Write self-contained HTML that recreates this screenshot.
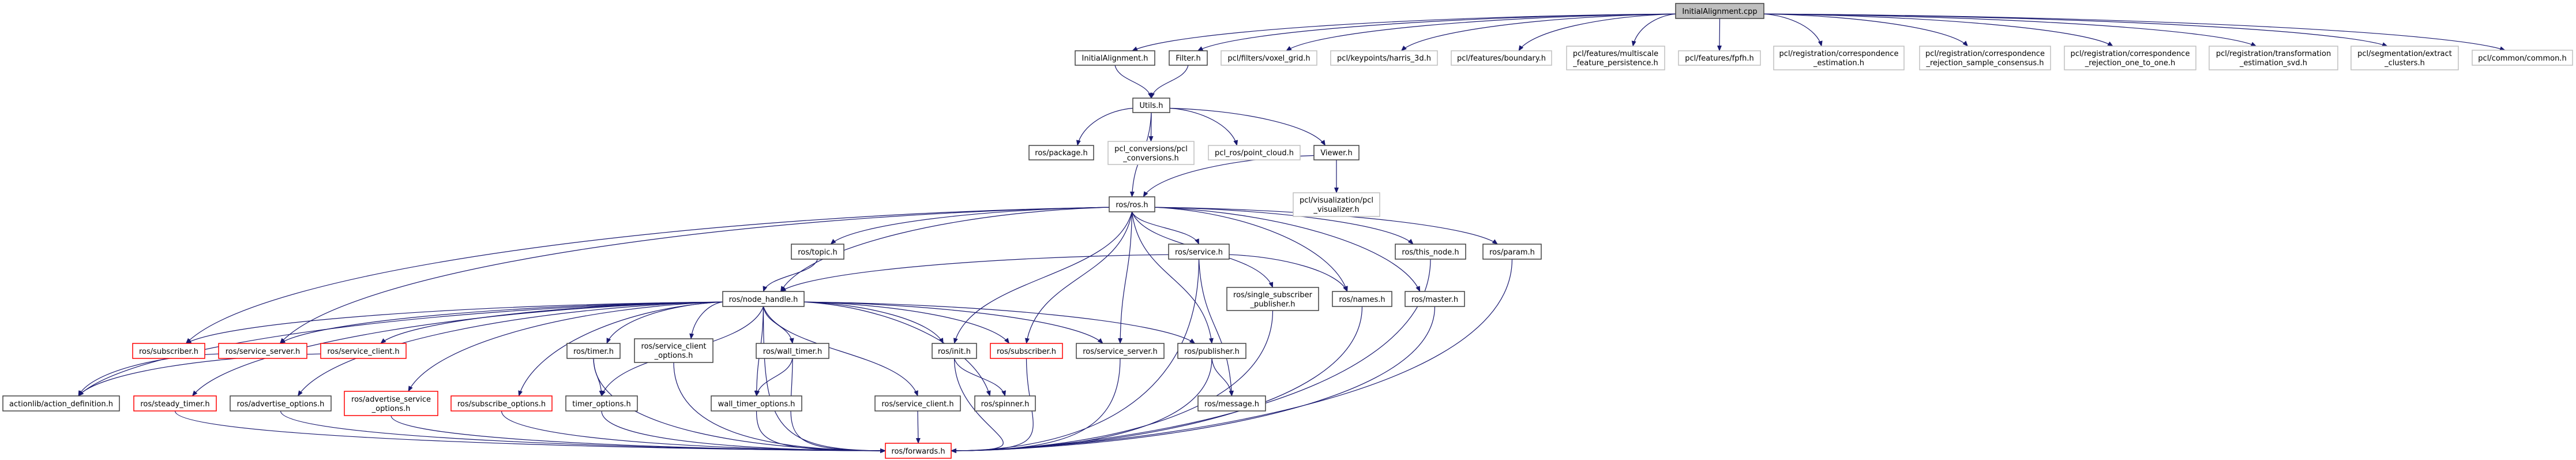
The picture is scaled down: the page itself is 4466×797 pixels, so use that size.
<!DOCTYPE html>
<html><head><meta charset="utf-8"><style>
html,body{margin:0;padding:0;background:#fff;}
svg{display:block;}
text{font-family:"DejaVu Sans","Liberation Sans",sans-serif;font-size:13px;fill:#000;}
</style></head><body>
<svg id="g" width="4466" height="797" viewBox="0 0 4466 797" xmlns="http://www.w3.org/2000/svg">
<defs><marker id="a" markerWidth="10" markerHeight="8" refX="9" refY="4" orient="auto" markerUnits="userSpaceOnUse"><path d="M0,0 L10,4 L0,8 z" fill="#191970"/></marker></defs>
<g id="edges" fill="none" stroke="#191970" stroke-width="1.2"></g>
<g id="nodes">
<rect x="2905" y="6" width="153" height="26" fill="#bfbfbf" stroke="#404040" stroke-width="1.5"/><text x="2981.5" y="24" text-anchor="middle">InitialAlignment.cpp</text>
<rect x="1864" y="88" width="138" height="25" fill="#fff" stroke="#404040" stroke-width="1.5"/><text x="1933" y="105" text-anchor="middle">InitialAlignment.h</text>
<rect x="2027" y="88" width="66" height="25" fill="#fff" stroke="#404040" stroke-width="1.5"/><text x="2060" y="105" text-anchor="middle">Filter.h</text>
<rect x="2117" y="88" width="166" height="25" fill="#fff" stroke="#bfbfbf" stroke-width="1.5"/><text x="2200" y="105" text-anchor="middle">pcl/filters/voxel_grid.h</text>
<rect x="2307" y="88" width="185" height="25" fill="#fff" stroke="#bfbfbf" stroke-width="1.5"/><text x="2399.5" y="105" text-anchor="middle">pcl/keypoints/harris_3d.h</text>
<rect x="2516" y="88" width="174" height="25" fill="#fff" stroke="#bfbfbf" stroke-width="1.5"/><text x="2603" y="105" text-anchor="middle">pcl/features/boundary.h</text>
<rect x="2716" y="80" width="170" height="41" fill="#fff" stroke="#bfbfbf" stroke-width="1.5"/><text x="2801" y="97" text-anchor="middle">pcl/features/multiscale</text><text x="2801" y="113" text-anchor="middle">_feature_persistence.h</text>
<rect x="2910" y="88" width="142" height="25" fill="#fff" stroke="#bfbfbf" stroke-width="1.5"/><text x="2981" y="105" text-anchor="middle">pcl/features/fpfh.h</text>
<rect x="3075" y="80" width="226" height="41" fill="#fff" stroke="#bfbfbf" stroke-width="1.5"/><text x="3188" y="97" text-anchor="middle">pcl/registration/correspondence</text><text x="3188" y="113" text-anchor="middle">_estimation.h</text>
<rect x="3328" y="80" width="227" height="41" fill="#fff" stroke="#bfbfbf" stroke-width="1.5"/><text x="3441.5" y="97" text-anchor="middle">pcl/registration/correspondence</text><text x="3441.5" y="113" text-anchor="middle">_rejection_sample_consensus.h</text>
<rect x="3579" y="80" width="228" height="41" fill="#fff" stroke="#bfbfbf" stroke-width="1.5"/><text x="3693" y="97" text-anchor="middle">pcl/registration/correspondence</text><text x="3693" y="113" text-anchor="middle">_rejection_one_to_one.h</text>
<rect x="3830" y="80" width="223" height="41" fill="#fff" stroke="#bfbfbf" stroke-width="1.5"/><text x="3941.5" y="97" text-anchor="middle">pcl/registration/transformation</text><text x="3941.5" y="113" text-anchor="middle">_estimation_svd.h</text>
<rect x="4076" y="80" width="186" height="41" fill="#fff" stroke="#bfbfbf" stroke-width="1.5"/><text x="4169" y="97" text-anchor="middle">pcl/segmentation/extract</text><text x="4169" y="113" text-anchor="middle">_clusters.h</text>
<rect x="4286" y="87" width="174" height="26" fill="#fff" stroke="#bfbfbf" stroke-width="1.5"/><text x="4373" y="105" text-anchor="middle">pcl/common/common.h</text>
<rect x="1964" y="170" width="64" height="25" fill="#fff" stroke="#404040" stroke-width="1.5"/><text x="1996" y="187" text-anchor="middle">Utils.h</text>
<rect x="1784" y="252" width="112" height="25" fill="#fff" stroke="#404040" stroke-width="1.5"/><text x="1840" y="269" text-anchor="middle">ros/package.h</text>
<rect x="1921" y="245" width="149" height="40" fill="#fff" stroke="#bfbfbf" stroke-width="1.5"/><text x="1995.5" y="262" text-anchor="middle">pcl_conversions/pcl</text><text x="1995.5" y="278" text-anchor="middle">_conversions.h</text>
<rect x="2095" y="252" width="159" height="25" fill="#fff" stroke="#bfbfbf" stroke-width="1.5"/><text x="2174.5" y="269" text-anchor="middle">pcl_ros/point_cloud.h</text>
<rect x="2278" y="252" width="78" height="25" fill="#fff" stroke="#404040" stroke-width="1.5"/><text x="2317" y="269" text-anchor="middle">Viewer.h</text>
<rect x="2242" y="334" width="150" height="41" fill="#fff" stroke="#bfbfbf" stroke-width="1.5"/><text x="2317" y="351" text-anchor="middle">pcl/visualization/pcl</text><text x="2317" y="367" text-anchor="middle">_visualizer.h</text>
<rect x="1923" y="341" width="79" height="26" fill="#fff" stroke="#404040" stroke-width="1.5"/><text x="1962.5" y="359" text-anchor="middle">ros/ros.h</text>
<rect x="1372" y="423" width="91" height="26" fill="#fff" stroke="#404040" stroke-width="1.5"/><text x="1417.5" y="441" text-anchor="middle">ros/topic.h</text>
<rect x="2026" y="423" width="105" height="26" fill="#fff" stroke="#404040" stroke-width="1.5"/><text x="2078.5" y="441" text-anchor="middle">ros/service.h</text>
<rect x="2419" y="423" width="122" height="26" fill="#fff" stroke="#404040" stroke-width="1.5"/><text x="2480" y="441" text-anchor="middle">ros/this_node.h</text>
<rect x="2571" y="423" width="101" height="26" fill="#fff" stroke="#404040" stroke-width="1.5"/><text x="2621.5" y="441" text-anchor="middle">ros/param.h</text>
<rect x="1253" y="505" width="141" height="26" fill="#fff" stroke="#404040" stroke-width="1.5"/><text x="1323.5" y="523" text-anchor="middle">ros/node_handle.h</text>
<rect x="2127" y="498" width="159" height="40" fill="#fff" stroke="#404040" stroke-width="1.5"/><text x="2206.5" y="515" text-anchor="middle">ros/single_subscriber</text><text x="2206.5" y="531" text-anchor="middle">_publisher.h</text>
<rect x="2310" y="505" width="103" height="26" fill="#fff" stroke="#404040" stroke-width="1.5"/><text x="2361.5" y="523" text-anchor="middle">ros/names.h</text>
<rect x="2436" y="505" width="103" height="26" fill="#fff" stroke="#404040" stroke-width="1.5"/><text x="2487.5" y="523" text-anchor="middle">ros/master.h</text>
<rect x="230" y="595" width="125" height="26" fill="#fff" stroke="#ff0000" stroke-width="1.5"/><text x="292.5" y="613" text-anchor="middle">ros/subscriber.h</text>
<rect x="379" y="595" width="153" height="26" fill="#fff" stroke="#ff0000" stroke-width="1.5"/><text x="455.5" y="613" text-anchor="middle">ros/service_server.h</text>
<rect x="556" y="595" width="148" height="26" fill="#fff" stroke="#ff0000" stroke-width="1.5"/><text x="630" y="613" text-anchor="middle">ros/service_client.h</text>
<rect x="983" y="595" width="92" height="26" fill="#fff" stroke="#404040" stroke-width="1.5"/><text x="1029" y="613" text-anchor="middle">ros/timer.h</text>
<rect x="1100" y="587" width="136" height="41" fill="#fff" stroke="#404040" stroke-width="1.5"/><text x="1168" y="604" text-anchor="middle">ros/service_client</text><text x="1168" y="620" text-anchor="middle">_options.h</text>
<rect x="1311" y="595" width="126" height="26" fill="#fff" stroke="#404040" stroke-width="1.5"/><text x="1374" y="613" text-anchor="middle">ros/wall_timer.h</text>
<rect x="1616" y="595" width="77" height="26" fill="#fff" stroke="#404040" stroke-width="1.5"/><text x="1654.5" y="613" text-anchor="middle">ros/init.h</text>
<rect x="1717" y="595" width="125" height="26" fill="#fff" stroke="#ff0000" stroke-width="1.5"/><text x="1779.5" y="613" text-anchor="middle">ros/subscriber.h</text>
<rect x="1866" y="595" width="152" height="26" fill="#fff" stroke="#404040" stroke-width="1.5"/><text x="1942" y="613" text-anchor="middle">ros/service_server.h</text>
<rect x="2042" y="595" width="118" height="26" fill="#fff" stroke="#404040" stroke-width="1.5"/><text x="2101" y="613" text-anchor="middle">ros/publisher.h</text>
<rect x="5" y="686" width="202" height="26" fill="#fff" stroke="#404040" stroke-width="1.5"/><text x="106" y="704" text-anchor="middle">actionlib/action_definition.h</text>
<rect x="232" y="686" width="143" height="26" fill="#fff" stroke="#ff0000" stroke-width="1.5"/><text x="303.5" y="704" text-anchor="middle">ros/steady_timer.h</text>
<rect x="399" y="686" width="175" height="26" fill="#fff" stroke="#404040" stroke-width="1.5"/><text x="486.5" y="704" text-anchor="middle">ros/advertise_options.h</text>
<rect x="597" y="678" width="162" height="42" fill="#fff" stroke="#ff0000" stroke-width="1.5"/><text x="678" y="696" text-anchor="middle">ros/advertise_service</text><text x="678" y="712" text-anchor="middle">_options.h</text>
<rect x="782" y="686" width="175" height="26" fill="#fff" stroke="#ff0000" stroke-width="1.5"/><text x="869.5" y="704" text-anchor="middle">ros/subscribe_options.h</text>
<rect x="981" y="686" width="124" height="26" fill="#fff" stroke="#404040" stroke-width="1.5"/><text x="1043" y="704" text-anchor="middle">timer_options.h</text>
<rect x="1233" y="686" width="157" height="26" fill="#fff" stroke="#404040" stroke-width="1.5"/><text x="1311.5" y="704" text-anchor="middle">wall_timer_options.h</text>
<rect x="1517" y="686" width="148" height="26" fill="#fff" stroke="#404040" stroke-width="1.5"/><text x="1591" y="704" text-anchor="middle">ros/service_client.h</text>
<rect x="1690" y="686" width="105" height="26" fill="#fff" stroke="#404040" stroke-width="1.5"/><text x="1742.5" y="704" text-anchor="middle">ros/spinner.h</text>
<rect x="2077" y="686" width="117" height="26" fill="#fff" stroke="#404040" stroke-width="1.5"/><text x="2135.5" y="704" text-anchor="middle">ros/message.h</text>
<rect x="1535" y="768" width="114" height="26" fill="#fff" stroke="#ff0000" stroke-width="1.5"/><text x="1592" y="786" text-anchor="middle">ros/forwards.h</text>
</g>
</svg>
<script>
var N={cpp:[2905,6,3058,32],IAh:[1864,88,2002,113],Filter:[2027,88,2093,113],voxel:[2117,88,2283,113],harris:[2307,88,2492,113],boundary:[2516,88,2690,113],multi:[2716,80,2886,121],fpfh:[2910,88,3052,113],corr:[3075,80,3301,121],sac:[3328,80,3555,121],one:[3579,80,3807,121],svd:[3830,80,4053,121],extract:[4076,80,4262,121],common:[4286,87,4460,113],
Utils:[1964,170,2028,195],pkg:[1784,252,1896,277],conv:[1921,245,2070,285],pros:[2095,252,2254,277],Viewer:[2278,252,2356,277],vis:[2242,334,2392,375],ros:[1923,341,2002,367],
topic:[1372,423,1463,449],service:[2026,423,2131,449],thisnode:[2419,423,2541,449],param:[2571,423,2672,449],nh:[1253,505,1394,531],ssp:[2127,498,2286,538],names:[2310,505,2413,531],master:[2436,505,2539,531],
subL:[230,595,355,621],ssL:[379,595,532,621],scL:[556,595,704,621],timer:[983,595,1075,621],sco:[1100,587,1236,628],wt:[1311,595,1437,621],init:[1616,595,1693,621],subM:[1717,595,1842,621],ssM:[1866,595,2018,621],pub:[2042,595,2160,621],
ad:[5,686,207,712],steady:[232,686,375,712],ao:[399,686,574,712],aso:[597,678,759,720],so:[782,686,957,712],to:[981,686,1105,712],wto:[1233,686,1390,712],sc:[1517,686,1665,712],spin:[1690,686,1795,712],msg:[2077,686,2194,712],fw:[1535,768,1649,794]};
var G=document.getElementById('edges'),NS='http://www.w3.org/2000/svg';
function P(d){var p=document.createElementNS(NS,'path');p.setAttribute('d',d);p.setAttribute('marker-end','url(#a)');G.appendChild(p);}
function E(s,t){var a=N[s],b=N[t];var sx=(a[0]+a[2])/2,sy=a[3],tx=(b[0]+b[2])/2,ty=b[1];
 var dx=tx-sx,dy=ty-sy;
 if(Math.abs(dx)>dy*2.2){
   sx=dx<0?a[0]:a[2]; sy=(a[1]+a[3])/2+(a[3]-a[1])*0.2;
   tx=tx+(dx<0?1:-1)*Math.min(30,(b[2]-b[0])*0.25); dy=ty-sy; dx=tx-sx;
   P('M'+sx+','+sy+' C'+(sx+dx*0.45)+','+(sy+dy*0.05)+' '+(tx-dx*0.08)+','+(ty-Math.max(dy*0.55,20))+' '+tx+','+ty);
 } else {
   P('M'+sx+','+sy+' C'+(sx+dx*0.1)+','+(sy+dy*0.5)+' '+(tx-dx*0.1)+','+(ty-dy*0.5)+' '+tx+','+ty);
 }}
function F(s){var a=N[s];var sx=(a[0]+a[2])/2,sy=a[3];var tx,ty=781;
 if(sx<1560){tx=1535;P('M'+sx+','+sy+' C'+sx+','+(sy+(ty-sy)*0.8)+' '+(tx-200)+','+ty+' '+tx+','+ty);}
 else if(sx>1640){tx=1649;P('M'+sx+','+sy+' C'+sx+','+(sy+(ty-sy)*0.8)+' '+(tx+200)+','+ty+' '+tx+','+ty);}
 else{P('M'+sx+','+sy+' L1592,768');}}
['IAh','Filter','voxel','harris','boundary','multi','fpfh','corr','sac','one','svd','extract','common'].forEach(function(t){E('cpp',t);});
E('IAh','Utils');E('Filter','Utils');
['ros','pkg','conv','pros','Viewer'].forEach(function(t){E('Utils',t);});
E('Viewer','ros');E('Viewer','vis');
['subL','ssL','topic','nh','service','init','subM','ssM','pub','ssp','names','master','thisnode','param'].forEach(function(t){E('ros',t);});
E('topic','nh');E('service','nh');E('service','names');E('service','msg');F('service');
['subL','ssL','scL','ad','steady','ao','aso','so','to','timer','sco','wt','wto','sc','spin','init','subM','ssM','pub'].forEach(function(t){E('nh',t);});
F('nh');
E('ssL','ad');E('scL','ad');E('timer','to');E('wt','wto');E('init','spin');E('pub','msg');
['timer','wt','sco','init','subM','ssM','pub','sc','ssp','names','master','thisnode','param','steady','ao','aso','so','to','wto'].forEach(F);
</script>
</body></html>
